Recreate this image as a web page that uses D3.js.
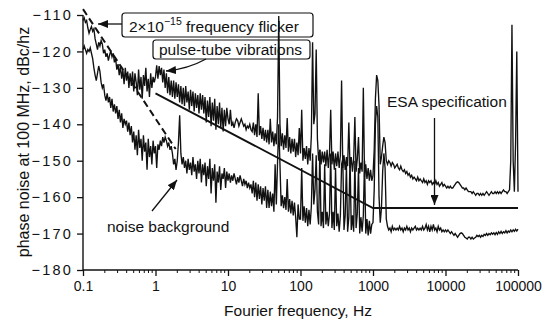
<!DOCTYPE html>
<html>
<head>
<meta charset="utf-8">
<script src="https://cdn.jsdelivr.net/npm/d3@7"></script>
<style>
  html, body { margin: 0; padding: 0; background: #fff; }
  svg { display: block; font-family: "Liberation Sans", Arial, Helvetica, sans-serif; }
  .trace { fill: none; stroke: #111; stroke-width: 1.35; stroke-linejoin: miter; }
</style>
</head>
<body>
<svg id="chart" width="550" height="321"></svg>
<script>
// spectrum samples: 60 per decade from 0.1 Hz up to 100 kHz
const F_START = 0.1;
const PER_DECADE = 60;

// oscillator phase noise, dBc/Hz (upper trace)
const upperDb = [
  -111.5,-110.8,-112,-111.5,-113.5,-115,-114,-113.2,-114.5,-113.8,-116.5,-118,-119.5,-117.5,-118.5,-117,-118,-120.5,-119.5,-121.5,
  -120.5,-122.5,-121,-119.8,-121.5,-120.5,-123,-122,-125,-123.5,-126.5,-124,-127.5,-125,-129,-124.5,-128,-125.5,-130,-126,
  -129.5,-125.5,-131,-126,-128.5,-132,-125,-130.5,-127,-133,-126.5,-129.5,-124.5,-131,-127.5,-132.5,-126,-130,-127,-128.5,
  -127,-123.8,-127.5,-124,-126.5,-124.5,-128.5,-125,-130,-126,-131.5,-127,-132,-128,-132.5,-128,-133,-128.5,-132.5,-129,
  -134,-129.5,-134.5,-130,-135,-129.5,-134,-131,-136,-130.5,-135,-131,-136.5,-131.5,-135.5,-132,-137,-131.5,-136,-132,
  -137,-132.5,-139.5,-133.5,-138,-132.5,-140.5,-134,-139,-133,-141.5,-135,-140,-134,-141,-135.5,-142,-136,-140.5,-135.5,
  -138.5,-140,-136,-140.5,-139.5,-141,-139.5,-138.5,-139,-140.5,-139.5,-138.5,-139.5,-140.5,-140,-141.5,-140.5,-141,-140,-141.5,
  -142,-139.5,-143,-140,-143.5,-131.5,-143,-140.5,-144,-141,-144.5,-141.5,-145,-141.5,-145.5,-138.5,-145,-142,-146,-142.5,
  -145.5,-138,-110.3,-140,-146,-142.5,-147,-143,-146.5,-138.3,-147.5,-143.5,-148,-144,-147.5,-144,-149,-145,-148.5,-141,
  -148,-136,-150,-146.5,-149.5,-146,-151,-146.5,-150,-143,-117.5,-140,-137,-119.5,-144,-150,-147,-151,-147.5,-150.5,
  -147.5,-151.5,-147,-152,-148,-136,-151,-147.5,-152.5,-148,-151.5,-147.5,-152,-148.5,-128,-152,-148.5,-152.5,-149,-151.5,
  -139.5,-152,-149,-153,-149.5,-138,-153,-149.5,-143.5,-153.5,-150.5,-153,-130,-154.5,-151,-155,-152,-155.5,-152.5,-155.5,
  -154,-147,-133,-126.5,-128,-135,-151,-149,-146,-143.5,-145,-150,-151,-150,-150.5,-151.5,-150.5,-151,-152,-151.5,
  -151,-152,-152.5,-151.5,-152.5,-153,-152.5,-153.5,-153,-154,-153.5,-154.5,-154,-155,-154.5,-155,-155.5,-154.5,-155.5,-155,
  -155.5,-156,-155,-156,-155.5,-156.5,-155.5,-156,-155.5,-156.5,-156,-156.5,-155.5,-156.5,-156,-157,-156.5,-156,-157,-156.5,
  -157,-157.5,-157,-157.5,-157,-157.5,-157.5,-157,-156.5,-156,-155.8,-156,-156.5,-157,-157.5,-157.5,-158,-157.5,-158,-158.5,
  -158.5,-158.5,-159,-158.5,-159,-159.5,-159,-159,-159.5,-159,-159.5,-159,-159.5,-159,-158.5,-159,-159.5,-159,-158.5,-159,
  -159,-158.5,-159,-158.5,-159,-158.5,-159,-158.5,-158,-158.5,-158.5,-159,-158.5,-158,-150,-112.7,-150,-158.5,-145,-120,
  -158.5
];

// measurement noise background, dBc/Hz (lower trace)
const lowerDb = [
  -119.5,-118.5,-119.5,-120.5,-119.5,-120,-119,-120.5,-122,-124.5,-126.5,-128,-126,-124,-125.5,-128.5,-130,-129,-132,-133.5,
  -131.5,-134,-132.5,-135.5,-133,-136.5,-134.5,-137,-135,-138.5,-136,-139.5,-137,-141,-138.5,-140,-139,-142,-139.5,-143,
  -140.5,-145,-142,-147,-143,-148.5,-141.5,-146.5,-144,-150,-143,-147.5,-145,-152.5,-144,-149,-146,-151,-144.5,-148,
  -146,-152,-145.5,-147,-144.5,-146,-143.5,-145,-143.5,-144.5,-146,-145,-147,-146,-148,-151,-149.5,-152.5,-150,-145,
  -137.5,-148,-151,-149,-152,-150,-153.5,-149.5,-152.5,-150.5,-154,-149,-153,-151,-155,-150,-153.5,-149.5,-156,-151,
  -154,-150.5,-157,-151.5,-155,-149.5,-159,-152,-155.5,-151,-161.5,-153,-156,-151.5,-158,-153.5,-155,-152,-157.5,-153,
  -155.5,-153.5,-156,-154,-155.5,-153.5,-155,-156.5,-154.5,-156,-154,-155.5,-157,-155,-156.5,-155.5,-157.5,-156,-157.5,-156.5,
  -159,-155.5,-160,-156,-161,-156.5,-160.5,-157,-162,-157.5,-161,-157,-163,-158,-163,-158.5,-162.5,-159,-164,-151,
  -162,-150.5,-140,-151,-162.5,-159.5,-163,-160,-163.5,-155,-164,-160.5,-164.5,-161,-165,-161.5,-165.5,-171,-162,-166,
  -166,-152,-166.5,-162.5,-167,-163,-168,-163.5,-167.5,-162.5,-148,-162,-158,-148.5,-164,-167.5,-147,-168,-164,-168.5,
  -151,-167.5,-164,-168,-164.5,-148,-168.5,-164,-169,-152,-168,-164.5,-169.5,-165,-151,-149.5,-169,-165,-151,-169.5,
  -165.5,-149,-169,-165,-169.5,-150,-168.5,-164.5,-152,-170,-165.5,-169.5,-165,-150,-170,-166,-170.5,-166.5,-170,-167.5,
  -167,-158,-140,-135,-138,-160,-167,-163,-153,-148,-152,-166,-168,-169,-168.5,-169.5,-168,-169,-168.5,-169,
  -168.5,-169,-168,-169,-168.5,-169.5,-168.5,-169,-168,-169,-168.5,-169.5,-168.5,-169,-168.5,-168,-169,-168.5,-169,-168.5,
  -169,-168,-169,-168.5,-167.5,-169,-168,-169.5,-168,-169,-167.5,-169,-168.5,-169.5,-168,-169,-168.5,-169.5,-169,-169.5,
  -169,-169.5,-169,-169.5,-170,-169.5,-170,-170.5,-170,-170.5,-171,-170.5,-170,-169.8,-170,-170.5,-171,-171.2,-171.5,-171,
  -171,-171.5,-171,-171.5,-171.2,-171,-170.5,-170.8,-170.5,-171,-170.5,-170.8,-170.2,-170.5,-170,-170.5,-170,-170.3,-169.8,-170.2,
  -169.8,-170.3,-169.7,-170.2,-169.5,-170,-169.4,-170,-169.5,-169.8,-169.2,-169.8,-169.3,-169.6,-169,-169.5,-169,-169.4,-168.8,-169.3,
  -168.8
];

// 2e-15 flicker floor and ESA specification mask, [Hz, dBc/Hz]
const flickerLine = [[0.1, -108.4], [1.9, -146.8]];
const esaSpec = [[1, -131.5], [1000, -163], [100000, -163]];

const xTicks = [0.1, 1, 10, 100, 1000, 10000, 100000];
const xTickLabels = ["0.1", "1", "10", "100", "1000", "10000", "100000"];
const yTicks = [-180, -170, -160, -150, -140, -130, -120, -110];

const svg = d3.select("#chart");
const W = 550, H = 321;
const margin = { top: 15, right: 32, bottom: 51, left: 83 };

const x = d3.scaleLog().domain([0.1, 100000]).range([margin.left, W - margin.right]);
const y = d3.scaleLinear().domain([-180, -110]).range([H - margin.bottom, margin.top]);

const freqAt = i => F_START * Math.pow(10, i / PER_DECADE);

// arrow heads
const defs = svg.append("defs");
defs.append("marker")
  .attr("id", "head")
  .attr("viewBox", "0 0 10 8")
  .attr("refX", 10).attr("refY", 4)
  .attr("markerWidth", 10).attr("markerHeight", 8)
  .attr("markerUnits", "userSpaceOnUse")
  .attr("orient", "auto")
  .append("path").attr("d", "M0,0 L10,4 L0,8 Z").attr("fill", "#111");

// --- annotation boxes (behind the data) ---
const ann = svg.append("g").attr("font-size", 15.5).attr("fill", "#111");

ann.append("rect").attr("x", 122).attr("y", 13).attr("width", 191).attr("height", 24)
  .attr("rx", 3).attr("fill", "#fff").attr("stroke", "#111").attr("stroke-width", 1.2);
const t1 = ann.append("text").attr("x", 129).attr("y", 32);
t1.append("tspan").text("2×10");
t1.append("tspan").attr("font-size", 10.5).attr("dy", -7).text("−15");
t1.append("tspan").attr("dy", 7).text(" frequency flicker");

ann.append("rect").attr("x", 153).attr("y", 40).attr("width", 157).attr("height", 19)
  .attr("rx", 3).attr("fill", "#fff").attr("stroke", "#111").attr("stroke-width", 1.2);
ann.append("text").attr("x", 159).attr("y", 55).text("pulse-tube vibrations");

ann.append("text").attr("x", 387).attr("y", 107).text("ESA specification");
ann.append("text").attr("x", 107).attr("y", 232).text("noise background");

const arrows = [
  "M122,24 L98,24",
  "M206,59 Q188,69 166,71",
  "M152,211 L177,180",
  "M434.5,118 L434.5,205"
];
ann.selectAll("path.arrow").data(arrows).enter().append("path")
  .attr("class", "arrow")
  .attr("d", d => d)
  .attr("fill", "none").attr("stroke", "#111").attr("stroke-width", 1.3)
  .attr("marker-end", "url(#head)");

// --- axes ---
const xAxis = d3.axisBottom(x)
  .tickValues(xTicks)
  .tickFormat((d, i) => xTickLabels[i])
  .tickSize(6).tickPadding(5);
const gx = svg.append("g").attr("transform", `translate(0,${y(-180)})`).call(xAxis);

const minor = [];
xTicks.slice(0, -1).forEach(d => { for (let k = 2; k <= 9; k++) minor.push(d * k); });
gx.selectAll("line.minor").data(minor).enter().append("line")
  .attr("class", "minor")
  .attr("x1", d => x(d)).attr("x2", d => x(d))
  .attr("y1", 0).attr("y2", 3)
  .attr("stroke", "#111");

const yAxis = d3.axisLeft(y)
  .tickValues(yTicks)
  .tickFormat(d => "−" + Math.abs(d))
  .tickSize(6).tickPadding(4);
const gy = svg.append("g").attr("transform", `translate(${x(0.1)},0)`).call(yAxis);

[gx, gy].forEach(g => {
  g.select(".domain").attr("stroke", "#111").attr("stroke-width", 1.4);
  g.selectAll(".tick line").attr("stroke", "#111").attr("stroke-width", 1.3);
  g.selectAll("text").attr("fill", "#111").attr("font-size", 14)
    .attr("font-family", "'Liberation Sans', Arial, Helvetica, sans-serif");
});
gy.selectAll("text").attr("letter-spacing", 2.2).attr("font-size", 14.5);
gx.select(".domain").attr("d", `M${x(0.1)},0H${x(100000)}`);
gy.select(".domain").attr("d", `M0,${y(-180)}V${y(-110)}`);

svg.append("text")
  .attr("transform", "rotate(-90)")
  .attr("x", -142).attr("y", 29)
  .attr("text-anchor", "middle")
  .attr("font-size", 16).attr("fill", "#111")
  .text("phase noise at 100 MHz, dBc/hz");

svg.append("text")
  .attr("x", 298).attr("y", 316)
  .attr("text-anchor", "middle")
  .attr("font-size", 15.5).attr("fill", "#111")
  .text("Fourier frequency, Hz");

// --- data ---
const traceLine = d3.line().x((d, i) => x(freqAt(i))).y(d => y(d));
const plain = d3.line().x(d => x(d[0])).y(d => y(d[1]));

svg.append("path").datum(lowerDb).attr("class", "trace").attr("d", traceLine);
svg.append("path").datum(upperDb).attr("class", "trace").attr("d", traceLine);

svg.append("path").datum(esaSpec).attr("d", plain)
  .attr("fill", "none").attr("stroke", "#111").attr("stroke-width", 1.9);

svg.append("path").datum(flickerLine).attr("d", plain)
  .attr("fill", "none").attr("stroke", "#111").attr("stroke-width", 2)
  .attr("stroke-dasharray", "7,4");
</script>
</body>
</html>
